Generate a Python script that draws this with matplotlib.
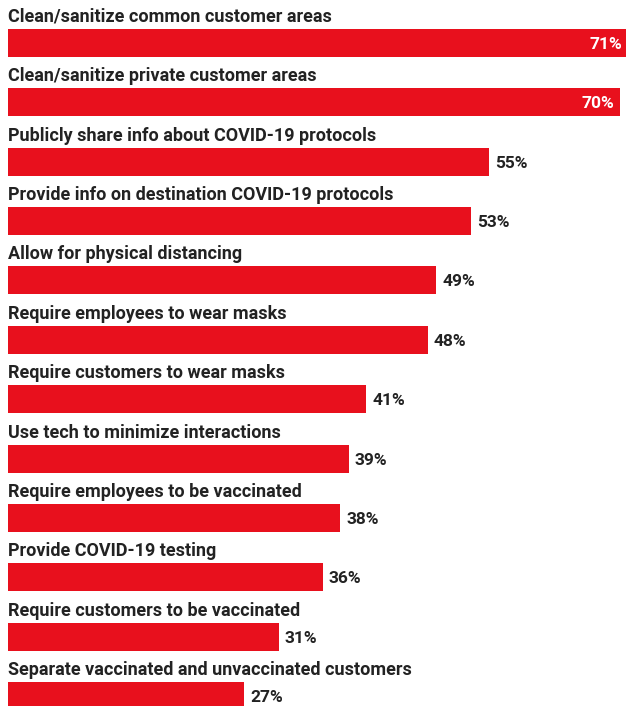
import matplotlib
matplotlib.use("Agg")
import matplotlib.pyplot as plt

categories = [
    "Clean/sanitize common customer areas",
    "Clean/sanitize private customer areas",
    "Publicly share info about COVID-19 protocols",
    "Provide info on destination COVID-19 protocols",
    "Allow for physical distancing",
    "Require employees to wear masks",
    "Require customers to wear masks",
    "Use tech to minimize interactions",
    "Require employees to be vaccinated",
    "Provide COVID-19 testing",
    "Require customers to be vaccinated",
    "Separate vaccinated and unvaccinated customers",
]
values = [71, 70, 55, 53, 49, 48, 41, 39, 38, 36, 31, 27]

RED = "#E8101D"
DARK = "#222222"
FONT = "Roboto"

W, H = 626, 706
px_per_unit = 8.74   # pixels per percent
pitch = 59.36        # pixels between rows
left_px = 8
first_center = 43

fig = plt.figure(figsize=(W / 100, H / 100), dpi=100)
ax = fig.add_axes([0, 0, 1, 1])
ax.set_xlim(-left_px / px_per_unit, (W - left_px) / px_per_unit)
ax.set_ylim((H - first_center) / pitch, -first_center / pitch)
ax.axis("off")

ypos = list(range(len(values)))
ax.barh(ypos, values, height=28 / pitch, color=RED, left=0)

for y, cat, v in zip(ypos, categories, values):
    ax.text(0, y - 21 / pitch, cat, ha="left", va="baseline",
            fontsize=13, fontweight="bold", color=DARK, family=FONT)
    if v >= 70:
        ax.text(v - 6 / px_per_unit, y, f"{v}%", ha="right", va="center_baseline",
                fontsize=12.5, fontweight="bold", color="white", family=FONT)
    else:
        ax.text(v + 6 / px_per_unit, y, f"{v}%", ha="left", va="center_baseline",
                fontsize=12.5, fontweight="bold", color=DARK, family=FONT)

fig.savefig("out.png", dpi=100)
